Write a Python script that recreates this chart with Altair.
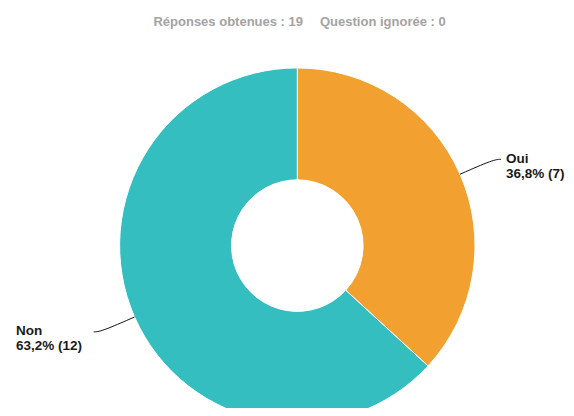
import math
import altair as alt
import pandas as pd

# ---- data ----
categories = ["Oui", "Non"]
counts = [7, 12]
percents = ["36,8%", "63,2%"]
colors = ["#F2A02F", "#35BEC0"]
title_left = "Réponses obtenues : 19"
title_right = "Question ignorée : 0"

# ---- layout (chart coordinates, page minus 8px margin) ----
W, H = 558, 400
CX, CY = 289.3, 237.6
R_OUT, R_IN = 177.7, 65.8
CONN_R = R_OUT + 37
CONN_H = 7
LABEL_GAP = 5

total = sum(counts)
arc_df = pd.DataFrame({"cat": categories, "count": counts, "ord": list(range(len(categories)))})

line_rows, label_rows = [], []
cum = 0
for i, (c, n, p) in enumerate(zip(categories, counts, percents)):
    mid = (cum + n / 2) / total * 2 * math.pi
    cum += n
    s, co = math.sin(mid), -math.cos(mid)
    ex, ey = CX + R_OUT * s, CY + R_OUT * co
    kx, ky = CX + CONN_R * s, CY + CONN_R * co
    side = 1 if s >= 0 else -1
    tx = kx + side * CONN_H
    line_rows += [
        {"cat": c, "seq": 0, "px": ex, "py": ey},
        {"cat": c, "seq": 1, "px": kx, "py": ky},
        {"cat": c, "seq": 2, "px": tx, "py": ky},
    ]
    label_rows.append({"cat": c, "txt": [c, f"{p} ({n})"], "side": side,
                       "lx": tx + LABEL_GAP if side > 0 else 8.0, "ly": ky + 3.2})
line_df = pd.DataFrame(line_rows)
label_df = pd.DataFrame(label_rows)

color_scale = alt.Scale(domain=categories, range=colors)

arcs = alt.Chart(arc_df).mark_arc(
    outerRadius=R_OUT, innerRadius=R_IN, stroke="#ffffff", strokeWidth=1
).encode(
    theta=alt.Theta("count:Q", stack=True),
    color=alt.Color("cat:N", scale=color_scale, legend=None),
    order=alt.Order("ord:Q"),
    x=alt.value(CX),
    y=alt.value(CY),
)

lines = alt.Chart(line_df).mark_line(
    interpolate="basis", color="#111111", strokeWidth=1
).encode(
    x=alt.X("px:Q", scale=None, axis=None),
    y=alt.Y("py:Q", scale=None, axis=None),
    detail="cat:N",
    order="seq:Q",
)

labels = alt.Chart(label_df).mark_text(
    align="left", baseline="alphabetic", font="Liberation Sans", fontSize=13.5,
    fontWeight="bold", color="#1a1a1a", lineHeight=15
).encode(
    x=alt.X("lx:Q", scale=None, axis=None),
    y=alt.Y("ly:Q", scale=None, axis=None),
    text="txt",
)

t1 = alt.Chart(pd.DataFrame({"t": [title_left]})).mark_text(
    align="right", baseline="alphabetic", font="Liberation Sans", fontSize=13,
    fontWeight="bold", color="#A3A3A3"
).encode(x=alt.value(295), y=alt.value(18.3), text="t:N")

t2 = alt.Chart(pd.DataFrame({"t": [title_right]})).mark_text(
    align="left", baseline="alphabetic", font="Liberation Sans", fontSize=13,
    fontWeight="bold", color="#A3A3A3"
).encode(x=alt.value(312), y=alt.value(18.3), text="t:N")

chart = alt.layer(arcs, lines, labels, t1, t2).properties(
    width=W, height=H, padding=0, autosize=alt.AutoSizeParams(type="none")
).configure_view(stroke=None)

chart.save("out.html", embed_options={"renderer": "svg", "actions": False})
